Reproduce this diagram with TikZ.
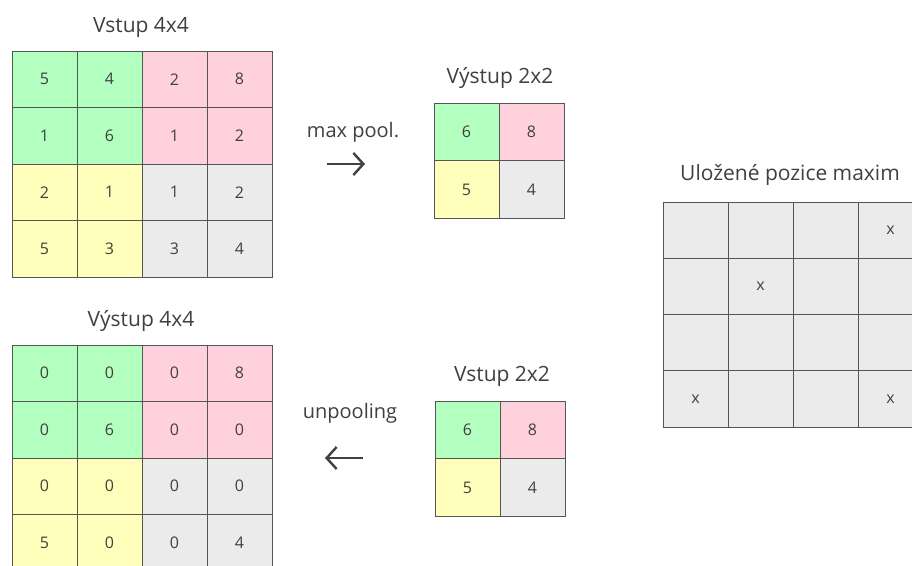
\documentclass[tikz,border=0pt]{standalone}
\usepackage{fontspec}
\setmainfont{Open Sans}
\usetikzlibrary{arrows.meta}
\definecolor{txt}{HTML}{404040}
\definecolor{edge}{HTML}{555555}
\definecolor{cgreen}{HTML}{B3FFBF}
\definecolor{cpink}{HTML}{FFD1DC}
\definecolor{cyellow}{HTML}{FFFFBB}
\definecolor{cgray}{HTML}{EBEBEB}
\tikzset{
  cell/.style={draw=edge, line width=1pt, minimum width=65pt, inner sep=0pt,
    text=txt, font=\fontsize{16}{18}\selectfont},
  title/.style={text=txt, font=\fontsize{21}{24}\selectfont, inner sep=0pt},
  flowarrow/.style={draw=txt, line width=2.4pt,
    -{Straight Barb[length=10pt, width=22pt, line width=2.4pt]}},
}
% one cell of a grid: name, fill, centre x, centre y, height, label
\newcommand{\gridcell}[6]{%
  \node[cell, fill=#2, minimum height=#5pt] (#1) at (#3,#4) {#6};}
\begin{document}
\begin{tikzpicture}[x=1pt, y=-1pt]
\useasboundingbox (0,0) rectangle (912,565);
\clip (0,0) rectangle (912,565);
\fill[white] (0,0) rectangle (912,565);

% ---- input 4x4
\node[title] (tin) at (141,27) {Vstup 4x4};
\foreach \r/\vals in {0/{5,4,2,8},1/{1,6,1,2},2/{2,1,1,2},3/{5,3,3,4}}{
  \foreach \v [count=\c from 0] in \vals {
    \pgfmathsetmacro{\cx}{12+65*(\c+0.5)}
    \pgfmathsetmacro{\cy}{51+56.5*(\r+0.5)}
    \ifnum\r<2 \ifnum\c<2 \def\fc{cgreen}\else\def\fc{cpink}\fi
    \else \ifnum\c<2 \def\fc{cyellow}\else\def\fc{cgray}\fi\fi
    \gridcell{in-\r-\c}{\fc}{\cx}{\cy}{56.5}{\v}
  }
}

% ---- pooled output 2x2
\node[title] (tpool) at (500,78) {Výstup 2x2};
\gridcell{po-0-0}{cgreen}{466.5}{132}{57.5}{6}
\gridcell{po-0-1}{cpink}{531.5}{132}{57.5}{8}
\gridcell{po-1-0}{cyellow}{466.5}{189.5}{57.5}{5}
\gridcell{po-1-1}{cgray}{531.5}{189.5}{57.5}{4}

\node[title, font=\fontsize{20}{24}\selectfont] (lpool) at (353,132) {max pool.};
\coordinate (pa) at (327,164);
\coordinate (pb) at (365,164);
\draw[flowarrow] (pa) -- (pb);

% ---- stored positions of maxima
\node[title] (tpos) at (790,175) {Uložené pozice maxim};
\foreach \r/\vals in {0/{,,,x},1/{,x,,},2/{,,,},3/{x,,,x}}{
  \foreach \v [count=\c from 0] in \vals {
    \pgfmathsetmacro{\cx}{663+65*(\c+0.5)}
    \pgfmathsetmacro{\cy}{202+56.25*(\r+0.5)}
    \gridcell{pos-\r-\c}{cgray}{\cx}{\cy}{56.25}{\v}
  }
}

% ---- input 2x2 for unpooling
\node[title] (tun) at (502,376) {Vstup 2x2};
\gridcell{ui-0-0}{cgreen}{467.5}{430}{57.5}{6}
\gridcell{ui-0-1}{cpink}{532.5}{430}{57.5}{8}
\gridcell{ui-1-0}{cyellow}{467.5}{487.5}{57.5}{5}
\gridcell{ui-1-1}{cgray}{532.5}{487.5}{57.5}{4}

\node[title, font=\fontsize{20}{24}\selectfont] (lun) at (350,413) {unpooling};
\coordinate (ua) at (363,458);
\coordinate (ub) at (325,458);
\draw[flowarrow] (ua) -- (ub);

% ---- unpooled output 4x4
\node[title] (tout) at (141,321) {Výstup 4x4};
\foreach \r/\vals in {0/{0,0,0,8},1/{0,6,0,0},2/{0,0,0,0},3/{5,0,0,4}}{
  \foreach \v [count=\c from 0] in \vals {
    \pgfmathsetmacro{\cx}{12+65*(\c+0.5)}
    \pgfmathsetmacro{\cy}{345+56.5*(\r+0.5)}
    \ifnum\r<2 \ifnum\c<2 \def\fc{cgreen}\else\def\fc{cpink}\fi
    \else \ifnum\c<2 \def\fc{cyellow}\else\def\fc{cgray}\fi\fi
    \gridcell{out-\r-\c}{\fc}{\cx}{\cy}{56.5}{\v}
  }
}
\end{tikzpicture}
\end{document}
